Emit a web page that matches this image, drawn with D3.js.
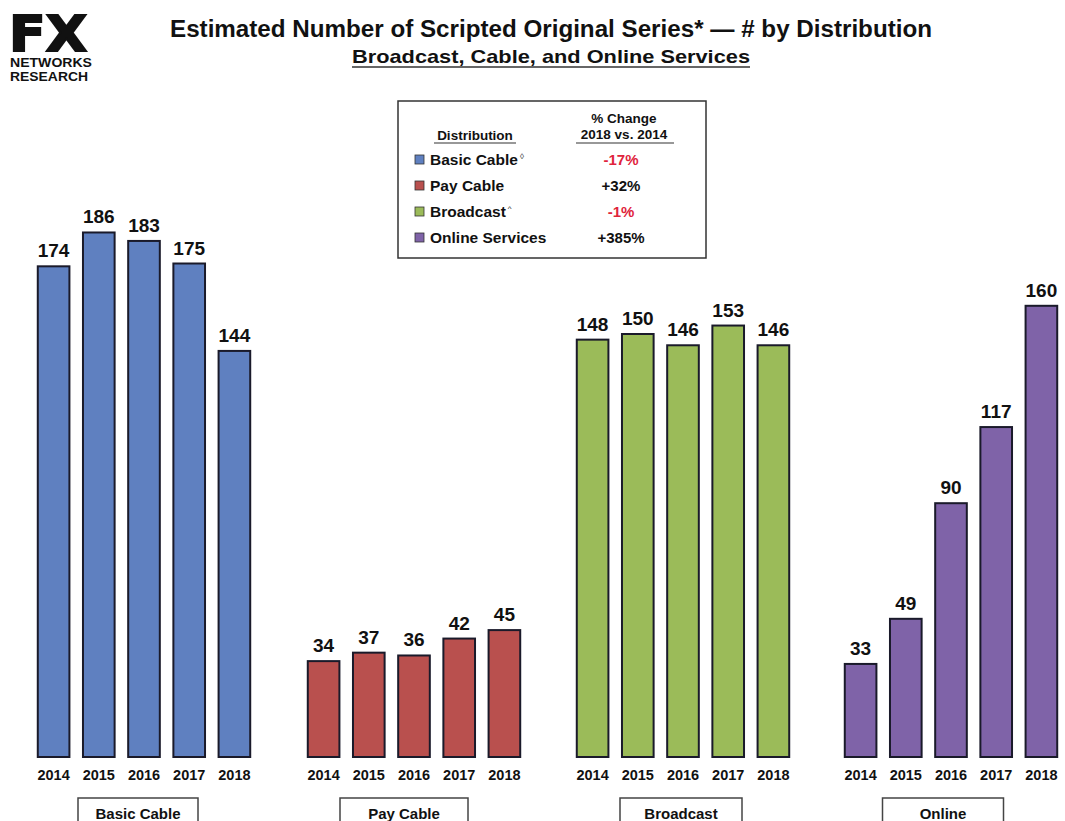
<!DOCTYPE html>
<html><head><meta charset="utf-8">
<script src="https://cdn.jsdelivr.net/npm/d3@7"></script>
<style>body{margin:0;background:#fff;}svg{display:block;font-family:"Liberation Sans",Arial,sans-serif;}</style>
</head><body>
<svg id="c" width="1065" height="821"></svg>
<script>
const years = ["2014","2015","2016","2017","2018"];
const groups = ["Basic Cable","Pay Cable","Broadcast","Online"];
const basicCable = [174,186,183,175,144];
const payCable = [34,37,36,42,45];
const broadcast = [148,150,146,153,146];
const online = [33,49,90,117,160];
const colors = ["#5f80c0","#b9504e","#9bbb59","#7f63a8"];
const legendLabels = ["Basic Cable","Pay Cable","Broadcast","Online Services"];
const legendSup = ["\u25CA","","^",""];
const pctChange = ["-17%","+32%","-1%","+385%"];
const series = [basicCable,payCable,broadcast,online];

const svg = d3.select("#c");
const baseY = 757;
const y = d3.scaleLinear().domain([0,186]).range([baseY, baseY-186*2.82]);

// Title
svg.append("text").attr("x",551).attr("y",37).attr("text-anchor","middle")
  .attr("font-size",23).attr("font-weight","bold").attr("fill","#111")
  .attr("textLength",762).attr("lengthAdjust","spacingAndGlyphs")
  .text("Estimated Number of Scripted Original Series* \u2014 # by Distribution");
svg.append("text").attr("x",551).attr("y",63).attr("text-anchor","middle")
  .attr("font-size",19).attr("font-weight","bold").attr("fill","#111")
  .attr("textLength",398).attr("lengthAdjust","spacingAndGlyphs")
  .text("Broadcast, Cable, and Online Services");
svg.append("line").attr("x1",352).attr("x2",750).attr("y1",67).attr("y2",67).attr("stroke","#333").attr("stroke-width",1.6);

// Logo
svg.append("text").attr("x",9).attr("y",51).attr("font-size",50).attr("font-weight","900")
  .attr("font-family","'DejaVu Sans',sans-serif").attr("fill","#111")
  .attr("stroke","#111").attr("stroke-width",2)
  .attr("textLength",78).attr("lengthAdjust","spacingAndGlyphs").text("FX");
svg.append("text").attr("x",10).attr("y",67).attr("font-size",13).attr("font-weight","bold").attr("fill","#111")
  .attr("textLength",82).attr("lengthAdjust","spacingAndGlyphs").text("NETWORKS");
svg.append("text").attr("x",10).attr("y",81).attr("font-size",13).attr("font-weight","bold").attr("fill","#111")
  .attr("textLength",78).attr("lengthAdjust","spacingAndGlyphs").text("RESEARCH");

// Groups
const centers = [144,414,683,951];
const boxCenters = [138,404,681,943];
const boxWidths = [120,128,122,121];
groups.forEach((g,i)=>{
  const x = d3.scaleBand().domain(years).range([centers[i]-113, centers[i]+113]).paddingInner(0.3).paddingOuter(0.15);
  const gg = svg.append("g");
  const data = years.map((yr,j)=>({yr, v:series[i][j]}));
  gg.selectAll("rect").data(data).join("rect")
    .attr("x",d=>x(d.yr)).attr("width",x.bandwidth())
    .attr("y",d=>y(d.v)).attr("height",d=>baseY-y(d.v))
    .attr("fill",colors[i]).attr("stroke","#1a1a2a").attr("stroke-width",2);
  gg.selectAll("text.v").data(data).join("text").attr("class","v")
    .attr("x",d=>x(d.yr)+x.bandwidth()/2).attr("y",d=>y(d.v)-9)
    .attr("text-anchor","middle").attr("font-size",19).attr("font-weight","bold").attr("fill","#111")
    .text(d=>d.v);
  const ax = d3.axisBottom(x).tickSize(0).tickPadding(0);
  const axg = svg.append("g").attr("transform",`translate(0,${baseY+23})`).call(ax);
  axg.select(".domain").remove();
  axg.selectAll("text").attr("font-size",14.5).attr("font-weight","bold").attr("fill","#111")
    .attr("font-family","'Liberation Sans',Arial,sans-serif").attr("dy",0);
  // category box
  const bw = boxWidths[i];
  svg.append("rect").attr("x",boxCenters[i]-bw/2).attr("y",798).attr("width",bw).attr("height",30)
    .attr("fill","#fff").attr("stroke","#444").attr("stroke-width",1.5);
  svg.append("text").attr("x",boxCenters[i]).attr("y",819).attr("text-anchor","middle")
    .attr("font-size",15).attr("font-weight","bold").attr("fill","#111").text(g);
});

// Legend
const lg = svg.append("g");
lg.append("rect").attr("x",398).attr("y",101).attr("width",308).attr("height",157)
  .attr("fill","#fff").attr("stroke","#333").attr("stroke-width",1.5);
lg.append("text").attr("x",475).attr("y",140).attr("text-anchor","middle").attr("font-size",13.5).attr("font-weight","bold").attr("fill","#111").text("Distribution");
lg.append("line").attr("x1",434).attr("x2",516).attr("y1",143).attr("y2",143).attr("stroke","#333").attr("stroke-width",1.2);
lg.append("text").attr("x",624).attr("y",123).attr("text-anchor","middle").attr("font-size",13.5).attr("font-weight","bold").attr("fill","#111").text("% Change");
lg.append("text").attr("x",624).attr("y",139).attr("text-anchor","middle").attr("font-size",13.5).attr("font-weight","bold").attr("fill","#111").text("2018 vs. 2014");
lg.append("line").attr("x1",576).attr("x2",674).attr("y1",143).attr("y2",143).attr("stroke","#333").attr("stroke-width",1.2);
const rowY = d3.scalePoint().domain(legendLabels).range([160,238]);
legendLabels.forEach((l,i)=>{
  const yy = rowY(l);
  lg.append("rect").attr("x",415).attr("y",yy-5).attr("width",9).attr("height",9).attr("fill",colors[i]).attr("stroke","#333").attr("stroke-width",0.8);
  const t = lg.append("text").attr("x",430).attr("y",yy+5).attr("font-size",15.5).attr("font-weight","bold").attr("fill","#111").text(l);
  if(legendSup[i]) t.append("tspan").attr("font-size",8).attr("dy",-6).attr("dx",2).attr("font-weight","normal").text(legendSup[i]);
  lg.append("text").attr("x",621).attr("y",yy+5).attr("text-anchor","middle").attr("font-size",15).attr("font-weight","bold")
    .attr("fill",pctChange[i].startsWith("-")?"#e0243c":"#111").text(pctChange[i]);
});
</script>
</body></html>
